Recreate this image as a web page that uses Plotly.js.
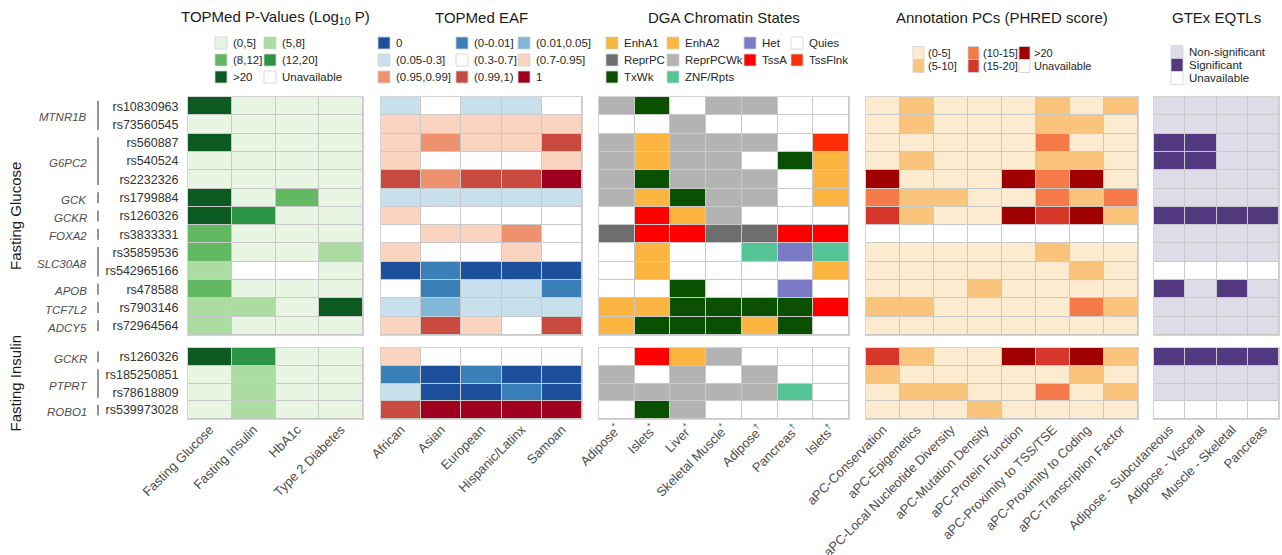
<!DOCTYPE html>
<html><head><meta charset="utf-8">
<script src="https://cdn.plot.ly/plotly-3.0.1.min.js"></script>
<style>html,body{margin:0;padding:0;background:#fff}#chart{width:1282px;height:555px}</style>
</head><body><div id="chart"></div>
<script>
// ---------- rows ----------
const glucoseSNPs = ['rs10830963','rs73560545','rs560887','rs540524','rs2232326','rs1799884','rs1260326','rs3833331','rs35859536','rs542965166','rs478588','rs7903146','rs72964564'];
const glucoseGenes = ['MTNR1B','MTNR1B','G6PC2','G6PC2','G6PC2','GCK','GCKR','FOXA2','SLC30A8','SLC30A8','APOB','TCF7L2','ADCY5'];
const insulinSNPs = ['rs1260326','rs185250851','rs78618809','rs539973028'];
const insulinGenes = ['GCKR','PTPRT','PTPRT','ROBO1'];

// ---------- TOPMed P-values ----------
const pvalColumns = ['Fasting Glucose','Fasting Insulin','HbA1c','Type 2 Diabetes'];
const pvalCategories = ['(0,5]','(5,8]','(8,12]','(12,20]','>20','Unavailable'];
const pvalColors = ['#e8f5e2','#abdda2','#63b963','#2d9447','#0c5a22','#ffffff'];
const pvalGlucose = [
  ['>20','(0,5]','(0,5]','(0,5]'],
  ['(0,5]','(0,5]','(0,5]','(0,5]'],
  ['>20','(0,5]','(0,5]','(0,5]'],
  ['(0,5]','(0,5]','(0,5]','(0,5]'],
  ['(0,5]','(0,5]','(0,5]','(0,5]'],
  ['>20','(0,5]','(8,12]','(0,5]'],
  ['>20','(12,20]','(0,5]','(0,5]'],
  ['(8,12]','(0,5]','(0,5]','(0,5]'],
  ['(8,12]','(0,5]','(0,5]','(5,8]'],
  ['(5,8]','Unavailable','Unavailable','(0,5]'],
  ['(8,12]','(0,5]','(0,5]','(0,5]'],
  ['(5,8]','(5,8]','(0,5]','>20'],
  ['(5,8]','(0,5]','(0,5]','(0,5]']
];
const pvalInsulin = [
  ['>20','(12,20]','(0,5]','(0,5]'],
  ['(0,5]','(5,8]','(0,5]','(0,5]'],
  ['(0,5]','(5,8]','(0,5]','(0,5]'],
  ['(0,5]','(5,8]','(0,5]','(0,5]']
];

// ---------- TOPMed EAF ----------
const eafColumns = ['African','Asian','European','Hispanic/Latinx','Samoan'];
const eafCategories = ['0','(0-0.01]','(0.01,0.05]','(0.05-0.3]','(0.3-0.7]','(0.7-0.95]','(0.95,0.99]','(0.99,1)','1'];
const eafColors = ['#1c4f9c','#3a7fb8','#80b7d7','#c8dfec','#ffffff','#fbd4bf','#ee916e','#c94a3e','#a0001f'];
const eafGlucose = [
  ['(0.05-0.3]','(0.3-0.7]','(0.05-0.3]','(0.05-0.3]','(0.3-0.7]'],
  ['(0.7-0.95]','(0.7-0.95]','(0.7-0.95]','(0.7-0.95]','(0.7-0.95]'],
  ['(0.7-0.95]','(0.95,0.99]','(0.7-0.95]','(0.7-0.95]','(0.99,1)'],
  ['(0.7-0.95]','(0.3-0.7]','(0.3-0.7]','(0.3-0.7]','(0.7-0.95]'],
  ['(0.99,1)','(0.95,0.99]','(0.99,1)','(0.99,1)','1'],
  ['(0.05-0.3]','(0.05-0.3]','(0.05-0.3]','(0.05-0.3]','(0.05-0.3]'],
  ['(0.7-0.95]','(0.3-0.7]','(0.3-0.7]','(0.3-0.7]','(0.3-0.7]'],
  ['(0.3-0.7]','(0.7-0.95]','(0.7-0.95]','(0.95,0.99]','(0.3-0.7]'],
  ['(0.7-0.95]','(0.3-0.7]','(0.3-0.7]','(0.7-0.95]','(0.3-0.7]'],
  ['0','(0-0.01]','0','0','0'],
  ['(0.3-0.7]','(0-0.01]','(0.05-0.3]','(0.05-0.3]','(0-0.01]'],
  ['(0.05-0.3]','(0.01,0.05]','(0.05-0.3]','(0.05-0.3]','(0.05-0.3]'],
  ['(0.7-0.95]','(0.99,1)','(0.7-0.95]','(0.3-0.7]','(0.99,1)']
];
const eafInsulin = [
  ['(0.7-0.95]','(0.3-0.7]','(0.3-0.7]','(0.3-0.7]','(0.3-0.7]'],
  ['(0-0.01]','0','(0-0.01]','0','0'],
  ['(0.05-0.3]','0','0','(0-0.01]','0'],
  ['(0.99,1)','1','1','1','1']
];

// ---------- DGA Chromatin States ----------
const chromColumns = ['Adipose<sup>*</sup>','Islets<sup>*</sup>','Liver<sup>*</sup>','Skeletal Muscle<sup>*</sup>','Adipose<sup>†</sup>','Pancreas<sup>†</sup>','Islets<sup>†</sup>'];
const chromCategories = ['EnhA1','EnhA2','Het','Quies','ReprPC','ReprPCWk','TssA','TssFlnk','TxWk','ZNF/Rpts'];
const chromColors = ['#fbb540','#fbb540','#7a7bc4','#ffffff','#6e6e6e','#b3b3b3','#ff0000','#ff2e05','#0b4f00','#55c597'];
const chromGlucose = [
  ['ReprPCWk','TxWk','Quies','ReprPCWk','ReprPCWk','Quies','Quies'],
  ['Quies','Quies','ReprPCWk','Quies','Quies','Quies','Quies'],
  ['ReprPCWk','EnhA1','ReprPCWk','ReprPCWk','ReprPCWk','Quies','TssFlnk'],
  ['ReprPCWk','EnhA1','ReprPCWk','ReprPCWk','Quies','TxWk','EnhA2'],
  ['ReprPCWk','TxWk','ReprPCWk','ReprPCWk','ReprPCWk','Quies','EnhA2'],
  ['ReprPCWk','EnhA1','TxWk','ReprPCWk','ReprPCWk','Quies','EnhA2'],
  ['Quies','TssA','EnhA1','ReprPCWk','Quies','Quies','Quies'],
  ['ReprPC','TssA','TssA','ReprPC','ReprPC','TssA','TssA'],
  ['Quies','EnhA1','Quies','Quies','ZNF/Rpts','Het','ZNF/Rpts'],
  ['Quies','EnhA1','Quies','Quies','Quies','Quies','EnhA2'],
  ['Quies','Quies','TxWk','Quies','Quies','Het','Quies'],
  ['EnhA1','EnhA1','TxWk','TxWk','TxWk','TxWk','TssA'],
  ['EnhA1','TxWk','TxWk','TxWk','EnhA2','TxWk','Quies']
];
const chromInsulin = [
  ['Quies','TssA','EnhA1','ReprPCWk','Quies','Quies','Quies'],
  ['ReprPCWk','Quies','ReprPCWk','Quies','ReprPCWk','Quies','Quies'],
  ['ReprPCWk','ReprPCWk','ReprPCWk','ReprPCWk','ReprPCWk','ZNF/Rpts','Quies'],
  ['Quies','TxWk','ReprPCWk','Quies','Quies','Quies','Quies']
];

// ---------- Annotation PCs ----------
const apcColumns = ['aPC-Conservation','aPC-Epigenetics','aPC-Local Nucleotide Diversity','aPC-Mutation Density','aPC-Protein Function','aPC-Proximity to TSS/TSE','aPC-Proximity to Coding','aPC-Transcription Factor'];
const apcCategories = ['(0-5]','(5-10]','(10-15]','(15-20]','>20','Unavailable'];
const apcColors = ['#fdebd0','#fbc47c','#f57a4a','#d7372b','#a00000','#ffffff'];
const apcGlucose = [
  ['(0-5]','(5-10]','(0-5]','(0-5]','(0-5]','(5-10]','(0-5]','(5-10]'],
  ['(0-5]','(5-10]','(0-5]','(0-5]','(0-5]','(5-10]','(5-10]','(0-5]'],
  ['(0-5]','(0-5]','(0-5]','(0-5]','(0-5]','(10-15]','(0-5]','(0-5]'],
  ['(0-5]','(5-10]','(0-5]','(0-5]','(0-5]','(5-10]','(5-10]','(0-5]'],
  ['>20','(0-5]','(0-5]','(0-5]','>20','(10-15]','>20','(0-5]'],
  ['(10-15]','(5-10]','(5-10]','(0-5]','(0-5]','(10-15]','(5-10]','(10-15]'],
  ['(15-20]','(5-10]','(0-5]','(0-5]','>20','(15-20]','>20','(5-10]'],
  ['Unavailable','Unavailable','Unavailable','Unavailable','Unavailable','Unavailable','Unavailable','Unavailable'],
  ['(0-5]','(0-5]','(0-5]','(0-5]','(0-5]','(5-10]','(0-5]','(0-5]'],
  ['(0-5]','(0-5]','(0-5]','(0-5]','(0-5]','(0-5]','(5-10]','(0-5]'],
  ['(0-5]','(0-5]','(0-5]','(5-10]','(0-5]','(0-5]','(0-5]','(0-5]'],
  ['(5-10]','(5-10]','(0-5]','(0-5]','(0-5]','(0-5]','(10-15]','(5-10]'],
  ['(0-5]','(0-5]','(0-5]','(0-5]','(0-5]','(0-5]','(0-5]','(0-5]']
];
const apcInsulin = [
  ['(15-20]','(5-10]','(0-5]','(0-5]','>20','(15-20]','>20','(5-10]'],
  ['(5-10]','(0-5]','(0-5]','(0-5]','(0-5]','(0-5]','(5-10]','(0-5]'],
  ['(0-5]','(5-10]','(5-10]','(0-5]','(0-5]','(10-15]','(0-5]','(5-10]'],
  ['(0-5]','(0-5]','(0-5]','(5-10]','(0-5]','(0-5]','(0-5]','(0-5]']
];

// ---------- GTEx EQTLs ----------
const gtexColumns = ['Adipose - Subcutaneous','Adipose - Visceral','Muscle - Skeletal','Pancreas'];
const gtexCategories = ['Non-significant','Significant','Unavailable'];
const gtexColors = ['#dedce9','#53397f','#ffffff'];
const N = 'Non-significant', S = 'Significant', U = 'Unavailable';
const gtexGlucose = [
  [N,N,N,N],[N,N,N,N],[S,S,N,N],[S,S,N,N],[N,N,N,N],[N,N,N,N],[S,S,S,S],
  [N,N,N,N],[N,N,N,N],[U,U,U,U],[S,N,S,N],[N,N,N,N],[N,N,N,N]
];
const gtexInsulin = [[S,S,S,S],[N,N,N,N],[N,N,N,N],[U,U,U,U]];

// ---------- layout (pixels) ----------
const W = 1282, H = 555;
const px = v => v / W;
const py = v => 1 - v / H;
const FONT = 'Liberation Sans, Arial, sans-serif';

const facets = [
  {name: 'Fasting Glucose', snps: glucoseSNPs, genes: glucoseGenes, top: 97, bottom: 335},
  {name: 'Fasting Insulin', snps: insulinSNPs, genes: insulinGenes, top: 348, bottom: 419}
];

const panels = [
  {title: 'TOPMed P-Values (Log<sub>10</sub> P)', columns: pvalColumns, categories: pvalCategories, colors: pvalColors,
   data: [pvalGlucose, pvalInsulin], left: 188, right: 363,
   legend: {cols: [215, 264], rows: [43, 60, 77], byRow: true, w: 12, h: 12, tx: 16, fs: 11.5}},
  {title: 'TOPMed EAF', columns: eafColumns, categories: eafCategories, colors: eafColors,
   data: [eafGlucose, eafInsulin], left: 381, right: 582,
   legend: {cols: [378, 456, 518], rows: [43, 60, 77], byRow: true, w: 12, h: 12, tx: 16, fs: 11.5}},
  {title: 'DGA Chromatin States', columns: chromColumns, categories: chromCategories, colors: chromColors,
   data: [chromGlucose, chromInsulin], left: 599, right: 849,
   legend: {cols: [606, 667, 744, 791], rows: [43, 60, 77], byRow: true, w: 12, h: 12, tx: 16, fs: 11.5,
            order: ['EnhA1','EnhA2','Het','Quies','ReprPC','ReprPCWk','TssA','TssFlnk','TxWk','ZNF/Rpts']}},
  {title: 'Annotation PCs (PHRED score)', columns: apcColumns, categories: apcCategories, colors: apcColors,
   data: [apcGlucose, apcInsulin], left: 866, right: 1138,
   legend: {cols: [913, 968, 1019], rows: [53, 66], byRow: false, w: 11, h: 13, tx: 13, fs: 11}},
  {title: 'GTEx EQTLs', columns: gtexColumns, categories: gtexCategories, colors: gtexColors,
   data: [gtexGlucose, gtexInsulin], left: 1154, right: 1279,
   legend: {cols: [1171], rows: [52, 65, 78], byRow: false, w: 12, h: 13, tx: 16, fs: 11.5}}
];

function discreteScale(colors) {
  const n = colors.length, s = [];
  colors.forEach((c, i) => { s.push([i / n, c]); s.push([(i + 1) / n, c]); });
  return s;
}

const traces = [];
const layout = {
  width: W, height: H,
  margin: {l: 0, r: 0, t: 0, b: 0},
  paper_bgcolor: '#ffffff',
  plot_bgcolor: '#c9c9c9',
  font: {family: FONT, color: '#333333'},
  showlegend: false,
  annotations: [],
  shapes: []
};

let idx = 0;
facets.forEach((f, fi) => {
  panels.forEach((p, pi) => {
    idx += 1;
    const sfx = idx === 1 ? '' : String(idx);
    const mat = p.data[fi];
    const z = mat.map(row => row.map(v => p.categories.indexOf(v)));
    const xs = p.columns.map((_, i) => i);
    const ys = f.snps.map((_, i) => i);
    traces.push({
      type: 'heatmap', xaxis: 'x' + sfx, yaxis: 'y' + sfx,
      x: xs, y: ys, z: z, text: mat, hovertemplate: '%{text}<extra></extra>',
      colorscale: discreteScale(p.colors), zmin: -0.5, zmax: p.colors.length - 0.5,
      showscale: false, xgap: 1, ygap: 1
    });
    const isBottom = fi === facets.length - 1;
    layout['xaxis' + sfx] = {
      domain: [px(p.left), px(p.right)], anchor: 'y' + sfx,
      range: [-0.5, p.columns.length - 0.5],
      tickmode: 'array', tickvals: xs, ticktext: p.columns,
      showticklabels: isBottom, tickangle: -45, ticks: '', ticklabelstandoff: -3,
      tickfont: {family: FONT, size: 13, color: '#4d4d4d'},
      showgrid: false, zeroline: false, showline: true, mirror: true,
      linecolor: '#d4d4d4', linewidth: 1, fixedrange: true
    };
    layout['yaxis' + sfx] = {
      domain: [py(f.bottom), py(f.top)], anchor: 'x' + sfx,
      range: [f.snps.length - 0.5, -0.5],
      tickmode: 'array', tickvals: ys, ticktext: f.snps,
      showticklabels: pi === 0, ticks: '', ticklabelstandoff: 6,
      tickfont: {family: FONT, size: 12.5, color: '#333333'},
      showgrid: false, zeroline: false, showline: true, mirror: true,
      linecolor: '#d4d4d4', linewidth: 1, fixedrange: true
    };
  });

  // gene labels + bracket bars
  const first = fi * panels.length + 1;
  const yref = 'y' + (first === 1 ? '' : String(first));
  let start = 0;
  for (let i = 1; i <= f.genes.length; i++) {
    if (i === f.genes.length || f.genes[i] !== f.genes[start]) {
      const end = i - 1;
      layout.annotations.push({
        xref: 'paper', yref: yref, x: px(89), y: (start + end) / 2,
        text: '<i>' + f.genes[start] + '</i>', showarrow: false,
        xanchor: 'right', yanchor: 'middle', yshift: -2,
        font: {family: FONT, size: 11.5, color: '#4d4d4d'}
      });
      layout.shapes.push({
        type: 'line', xref: 'paper', yref: yref,
        x0: px(98), x1: px(98), y0: start - 0.3, y1: end + 0.3,
        line: {color: '#4d4d4d', width: 1.2}
      });
      start = i;
    }
  }
  // facet title (rotated)
  layout.annotations.push({
    xref: 'paper', yref: 'paper', x: px(15), y: (py(f.top) + py(f.bottom)) / 2,
    text: f.name, textangle: -90, showarrow: false,
    xanchor: 'center', yanchor: 'middle',
    font: {family: FONT, size: 15, color: '#1a1a1a'}
  });
});

// panel titles and legends
panels.forEach(p => {
  layout.annotations.push({
    xref: 'paper', yref: 'paper', x: px((p.left + p.right) / 2), y: py(17),
    text: p.title, showarrow: false, xanchor: 'center', yanchor: 'middle',
    font: {family: FONT, size: 15, color: '#1a1a1a'}
  });
  const lg = p.legend;
  const items = lg.order || p.categories;
  const nc = lg.cols.length, nr = lg.rows.length;
  items.forEach((lab, k) => {
    const c = lg.byRow ? k % nc : Math.floor(k / nr);
    const r = lg.byRow ? Math.floor(k / nc) : k % nr;
    const color = p.colors[p.categories.indexOf(lab)];
    const x0 = lg.cols[c], yc = lg.rows[r];
    layout.shapes.push({
      type: 'rect', xref: 'paper', yref: 'paper',
      x0: px(x0), x1: px(x0 + lg.w), y0: py(yc + lg.h / 2), y1: py(yc - lg.h / 2),
      fillcolor: color, line: {color: '#d2d2d2', width: 0.8}
    });
    layout.annotations.push({
      xref: 'paper', yref: 'paper', x: px(x0 + lg.tx), y: py(yc),
      text: lab, showarrow: false, xanchor: 'left', yanchor: 'middle',
      font: {family: FONT, size: lg.fs, color: '#262626'}
    });
  });
});

Plotly.newPlot('chart', traces, layout, {displayModeBar: false, staticPlot: true});
</script>
</body></html>
